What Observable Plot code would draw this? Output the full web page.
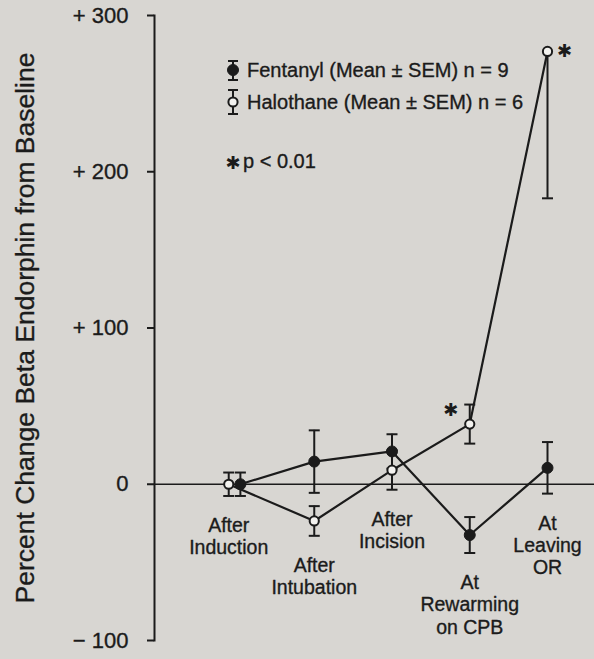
<!DOCTYPE html>
<html><head><meta charset="utf-8">
<script src="https://cdn.jsdelivr.net/npm/d3@7"></script>
<script src="https://cdn.jsdelivr.net/npm/@observablehq/plot@0.6"></script>
<style>
html,body{margin:0;padding:0;background:#d8d6d2;}
#wrap{position:relative;width:594px;height:659px;overflow:hidden;}
</style></head><body><div id="wrap"></div>
<script>
// ---- data ----
const categories = ["After\nInduction", "After\nIntubation", "After\nIncision", "At\nRewarming\non CPB", "At\nLeaving\nOR"];
const fentanylMean = [0, 14.5, 21, -32.5, 10.5];
const fentanylSEM = [7.5, 20, 11, 11.5, 16.5];
const halothaneMean = [0, -23.5, 9, 38.5, 277];
const halothaneSEM = [7.5, 9.5, 12.5, 12.5, 94];
const halothaneSignificant = [false, false, false, true, true];
const yTicks = [-100, 0, 100, 200, 300];
const yTickLabels = ["\u2212 100", "0", "+ 100", "+ 200", "+ 300"];
const yLabel = "Percent Change Beta Endorphin from Baseline";
const legendLabels = ["Fentanyl (Mean \u00b1 SEM) n = 9", "Halothane (Mean \u00b1 SEM) n = 6", "p < 0.01"];

// ---- styles ----
const ink = "#1b1b1b";
const font = "'Liberation Sans', Arial, Helvetica, sans-serif";
const DODGE = {Fentanyl: 0.05, Halothane: -0.1}; // separate overlapping points at baseline
const yMax = 300;
const textWeight = 0.35; // thin outline to mimic heavier print type

function rows(series, means, sems, sig) {
  return means.map((m, i) => ({
    series, i,
    x: i + (i === 0 ? DODGE[series] : 0),
    y: m,
    lo: m - sems[i],
    hi: m + sems[i] <= yMax ? m + sems[i] : null,
    sig: sig ? sig[i] : false
  }));
}
const fent = rows("Fentanyl", fentanylMean, fentanylSEM);
const halo = rows("Halothane", halothaneMean, halothaneSEM, halothaneSignificant);
const all = fent.concat(halo);

const caps = [];
for (const d of all) {
  caps.push({x: d.x, y: d.lo});
  if (d.hi != null) caps.push({x: d.x, y: d.hi});
}
const labels = categories.map((c, i) => ({
  text: c,
  x: Math.min(fent[i].x, halo[i].x),
  y: Math.min(fent[i].lo, halo[i].lo)
}));

const capSymbol = {draw(ctx, size) { const w = Math.sqrt(size / Math.PI); ctx.moveTo(-w, 0); ctx.lineTo(w, 0); }};
const star = "\u2731";

const chart = Plot.plot({
  width: 594, height: 659,
  marginLeft: 154, marginRight: 0, marginTop: 15, marginBottom: 19,
  style: {background: "transparent", color: ink, fontFamily: font},
  x: {type: "linear", domain: [0, 4], range: [236, 547], axis: null},
  y: {domain: [-100, 300], axis: null},
  marks: [
    Plot.ruleY([0], {stroke: ink, strokeWidth: 1.7}),
    Plot.frame({anchor: "left", stroke: ink, strokeWidth: 2}),
    Plot.axisY({ticks: yTicks, tickFormat: d => yTickLabels[yTicks.indexOf(d)], tickSize: 7, tickPadding: 19,
      fontSize: 22, strokeWidth: 2, stroke: ink, fill: ink, label: null}),
    Plot.text([yLabel], {frameAnchor: "left", dx: -129, rotate: -90, fontSize: 26.5, fill: ink, stroke: ink, strokeWidth: textWeight, textAnchor: "middle", lineAnchor: "middle"}),
    Plot.line(fent, {x: "x", y: "y", stroke: ink, strokeWidth: 2.2}),
    Plot.line(halo, {x: "x", y: "y", stroke: ink, strokeWidth: 2.2}),
    Plot.ruleX(all, {x: "x", y1: "lo", y2: d => d.hi ?? d.y, stroke: ink, strokeWidth: 2}),
    Plot.dot(caps, {x: "x", y: "y", symbol: capSymbol, r: 5.5, stroke: ink, strokeWidth: 2, fill: "none"}),
    Plot.dot(fent, {x: "x", y: "y", r: 5.5, fill: ink, stroke: ink, strokeWidth: 1}),
    Plot.dot(halo, {x: "x", y: "y", r: 4.6, fill: "#f3f2ef", stroke: ink, strokeWidth: 2}),
    Plot.text(halo.filter(d => d.sig && d.hi != null), {x: "x", y: "hi", text: () => star, dx: -19, dy: 6, fontSize: 18, fill: ink, fontFamily: "DejaVu Sans"}),
    Plot.text(halo.filter(d => d.sig && d.hi == null), {x: "x", y: "y", text: () => star, dx: 17, dy: 0, fontSize: 18, fill: ink, fontFamily: "DejaVu Sans"}),
    Plot.text(labels, {x: "x", y: "y", text: "text", dy: 20, lineAnchor: "top", fontSize: 19.5, lineHeight: 1.15, fill: ink, stroke: ink, strokeWidth: textWeight})
  ]
});
const wrap = document.getElementById("wrap");
wrap.appendChild(chart);
d3.select(chart).selectAll("g[aria-label='y-axis tick label']")
  .attr("stroke", ink).attr("stroke-width", textWeight);

// ---- legend (overlay inside the plot area) ----
const leg = d3.create("svg").attr("width", 594).attr("height", 200)
  .style("position", "absolute").style("left", "0px").style("top", "0px").style("font-family", font);
const lx = 233, tx = 247;
const items = [
  {cy: 70, top: 61, bot: 80, fill: ink, r: 5.5, sw: 1},
  {cy: 102, top: 90, bot: 114, fill: "#f3f2ef", r: 4.6, sw: 2}
];
items.forEach((it, k) => {
  const g = leg.append("g").attr("stroke", ink).attr("stroke-width", 2);
  g.append("line").attr("x1", lx).attr("x2", lx).attr("y1", it.top).attr("y2", it.bot);
  g.append("line").attr("x1", lx - 5).attr("x2", lx + 5).attr("y1", it.top).attr("y2", it.top);
  g.append("line").attr("x1", lx - 5).attr("x2", lx + 5).attr("y1", it.bot).attr("y2", it.bot);
  g.append("circle").attr("cx", lx).attr("cy", it.cy).attr("r", it.r).attr("fill", it.fill).attr("stroke-width", it.sw);
  leg.append("text").attr("x", tx).attr("y", it.cy).attr("dy", "0.35em").attr("font-size", 20)
    .attr("fill", ink).attr("stroke", ink).attr("stroke-width", textWeight).text(legendLabels[k]);
});
leg.append("text").attr("x", lx).attr("y", 163).attr("dy", "0.35em").attr("text-anchor", "middle")
  .attr("font-size", 18).attr("font-family", "DejaVu Sans").attr("fill", ink).text(star);
leg.append("text").attr("x", 243).attr("y", 161).attr("dy", "0.35em").attr("font-size", 20)
  .attr("fill", ink).attr("stroke", ink).attr("stroke-width", textWeight).text(legendLabels[2]);
wrap.appendChild(leg.node());
</script></body></html>
